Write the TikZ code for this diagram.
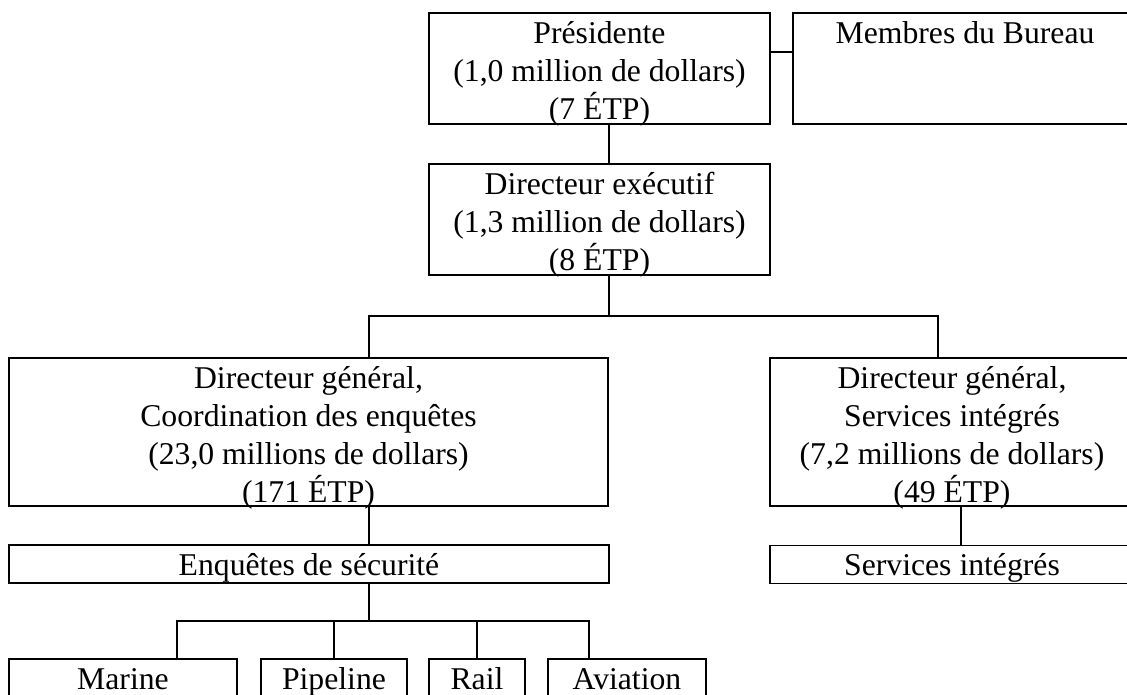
\documentclass[tikz,border=0pt]{standalone}
\usepackage{fontspec}
\setmainfont{Liberation Serif}
\usetikzlibrary{positioning,calc}

\begin{document}
\begin{tikzpicture}[x=1pt,y=-1pt,
  orgbox/.style={draw,line width=1.5pt,align=center,inner sep=0pt,
    font=\fontsize{31.7}{38}\selectfont},
  threeline/.style={orgbox,text height=106pt,text depth=5pt},
  fourline/.style={orgbox,text height=144pt,text depth=4pt},
  oneline/.style={orgbox,text height=30pt,text depth=8pt},
  link/.style={line width=1.5pt}]
 \useasboundingbox (0,0) rectangle (1127,694);
 \node[threeline,minimum width=341] (pres) at (599.5,68.5) {Présidente\\(1,0 million de dollars)\\(7 ÉTP)};
 \node[orgbox,text height=30pt,text depth=81pt,minimum width=344] (membres) at (965,68.5) {Membres du Bureau};
 \node[threeline,minimum width=341] (dirx) at (599.5,219.5) {Directeur exécutif\\(1,3 million de dollars)\\(8 ÉTP)};

 \node[fourline,minimum width=599] (dgce) at (308.5,432) {Directeur général,\\Coordination des enquêtes\\(23,0 millions de dollars)\\(171 ÉTP)};
 \node[fourline,minimum width=364] (dgsi) at (952,432) {Directeur général,\\Services intégrés\\(7,2 millions de dollars)\\(49 ÉTP)};
 \node[oneline,minimum width=600] (enq) at (309,564) {Enquêtes de sécurité};
 \node[oneline,minimum width=364] (si) at (952,564.5) {Services intégrés};

 \node[oneline,minimum width=228] (marine) at (123,678) {Marine};
 \node[oneline,minimum width=146] (pipeline) at (334,678) {Pipeline};
 \node[oneline,minimum width=96] (rail) at (477,678) {Rail};
 \node[oneline,minimum width=158] (aviation) at (627,678) {Aviation};

 \coordinate (bus1) at (609,316);
 \coordinate (bus2) at (369,621);
 \draw[link] (pres.east |- 0,52) -- (membres.west |- 0,52);
 \draw[link] ([xshift=9.5]pres.south) -- ([xshift=9.5]dirx.north);
 \draw[link] (dirx.south -| bus1) -- (bus1);
 \draw[link] (dgce.north -| 369,0) |- (bus1) -| (dgsi.north -| 938,0);
 \draw[link] (dgce.south -| bus2) -- (enq.north -| bus2);
 \draw[link] (dgsi.south -| 961,0) -- (si.north -| 961,0);
 \draw[link] (enq.south -| bus2) -- (bus2);
 \draw[link] (marine.north -| 177,0) |- (bus2) -| (aviation.north -| 589,0);
 \draw[link] (pipeline.north) -- (pipeline.north |- bus2);
 \draw[link] (rail.north) -- (rail.north |- bus2);
\end{tikzpicture}
\end{document}
